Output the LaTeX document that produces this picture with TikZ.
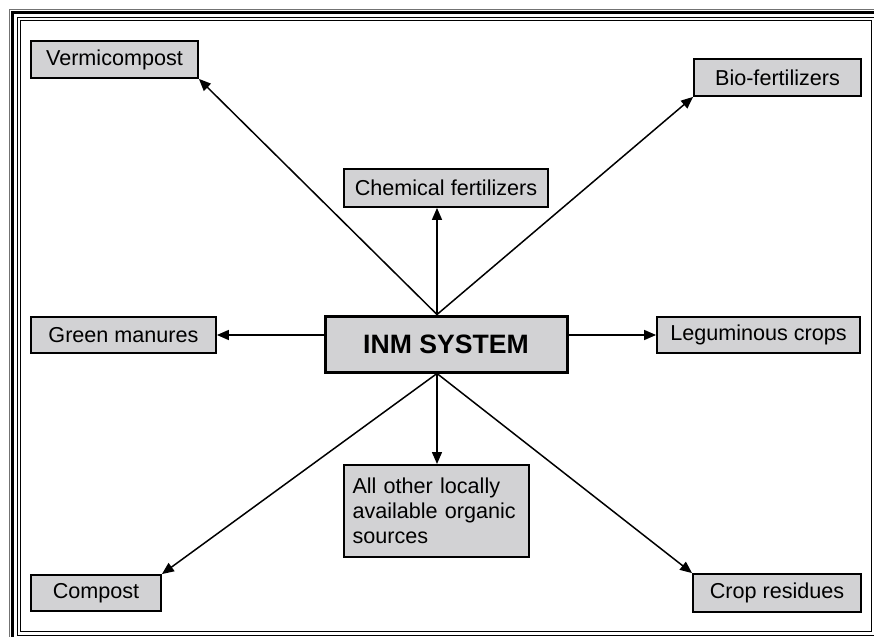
\documentclass[tikz,border=0pt]{standalone}
\usepackage{fontspec}
\setmainfont{Liberation Sans}
\usetikzlibrary{arrows.meta}

\definecolor{boxgray}{RGB}{210,210,212}

\tikzset{
  src/.style={draw,fill=boxgray,line width=.9pt,inner sep=0pt,
    minimum height=18.5pt,font=\fontsize{10.8}{12.5}\selectfont},
  lnk/.style={line width=.75pt,-{Triangle[length=6pt,width=5pt]}},
}

\begin{document}
\begin{tikzpicture}[x=.5pt,y=-.5pt]
\useasboundingbox (0,0) rectangle (874,637);
\clip (0,0) rectangle (874,637);

\begin{scope}
% frame
\draw[line width=.5pt,black!55] (9,9) rectangle (884,644);
\draw[line width=1.7pt] (12.5,12.5) rectangle (880,640);
\draw[line width=.5pt] (17,17) rectangle (875.5,635.5);
\draw[line width=.7pt] (20.7,20.7) rectangle (871.7,631.7);

\node[src,line width=1.5pt,minimum width=121pt,minimum height=28pt,
  font=\bfseries\fontsize{13.3}{15}\selectfont] (inm) at (446,344) {INM SYSTEM};

\node[src,minimum width=83.5pt] (verm) at (114.5,59.5) {Vermicompost};
\node[src,minimum width=83.5pt] (bio) at (777.5,77.5) {Bio-fertilizers};
\node[src,minimum width=102pt,minimum height=19pt] (chem) at (446,188) {Chemical fertilizers};
\node[src,minimum width=92.5pt,minimum height=18pt] (green) at (123.5,335) {Green manures};
\node[src,minimum width=101.5pt,minimum height=18pt] (legum) at (758.5,335) {Leguminous crops};
\node[src,anchor=north,align=left,text width=84pt,inner xsep=4.25pt,
  minimum height=46pt] (other) at (436.5,464) {All other locally\\available organic\\sources};
\node[src,minimum width=65pt,minimum height=18pt] (comp) at (96,593) {Compost};
\node[src,minimum width=84pt,minimum height=19pt] (crop) at (777,593) {Crop residues};

\path (inm.north) ++(-9,0) coordinate (t);
\path (inm.south) ++(-9,0) coordinate (b);

\draw[lnk] (t) -- (verm.south east);
\draw[lnk] (t) -- (bio.south west);
\draw[lnk] (t) -- (t |- chem.south);
\draw[lnk] (inm.west |- green.east) -- (green.east);
\draw[lnk] (inm.east |- legum.west) -- (legum.west);
\draw[lnk] (b) -- (comp.north east);
\draw[lnk] (b) -- (crop.north west);
\draw[lnk] (b) -- (b |- other.north);
\end{scope}

\end{tikzpicture}
\end{document}
